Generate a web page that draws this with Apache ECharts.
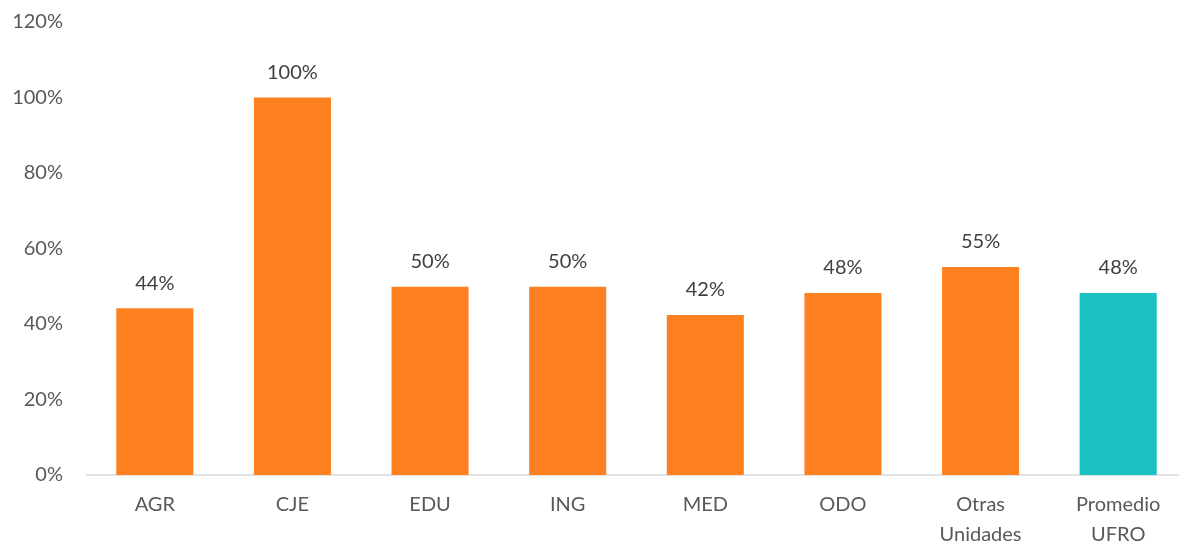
<!DOCTYPE html>
<html>
<head>
<meta charset="utf-8">
<script src="https://cdn.jsdelivr.net/npm/echarts@6/dist/echarts.min.js"></script>
<style>
  html, body { margin: 0; padding: 0; background: #fff; }
  #chart { width: 1179px; height: 544px; }
</style>
</head>
<body>
<div id="chart"></div>
<script>
// categorias y valores (%)
var categories = ['AGR', 'CJE', 'EDU', 'ING', 'MED', 'ODO', 'Otras\nUnidades', 'Promedio\nUFRO'];
var values = [44.2, 100, 49.9, 49.9, 42.4, 48.2, 55.1, 48.2];
var yTicks = [0, 20, 40, 60, 80, 100, 120];

var orange = '#FF8021';
var teal = '#1BC1C1';

var barData = [];
for (var i = 0; i < values.length; i++) {
  barData.push({
    value: values[i],
    itemStyle: { color: i == values.length - 1 ? teal : orange }
  });
}

var myChart = echarts.init(document.getElementById('chart'));
var option = {
  animation: false,
  textStyle: { fontFamily: 'Lato, "Open Sans", sans-serif' },
  grid: { left: 86, top: 22, width: 1101, height: 453, containLabel: false, outerBoundsMode: 'none' },
  xAxis: {
    type: 'category',
    data: categories,
    axisLine: { lineStyle: { color: '#D9D9D9', width: 1.5 } },
    axisTick: { show: false },
    axisLabel: { color: '#595959', fontSize: 20, margin: 15, lineHeight: 30 }
  },
  yAxis: {
    type: 'value',
    min: yTicks[0],
    max: yTicks[yTicks.length - 1],
    interval: 20,
    splitLine: { show: false },
    axisLine: { show: false },
    axisTick: { show: false },
    axisLabel: {
      color: '#595959', fontSize: 20, margin: 23,
      formatter: function(v) { return v + '%'; }
    }
  },
  series: [{
    type: 'bar',
    data: barData,
    barWidth: '56%',
    label: {
      show: true,
      position: 'top',
      distance: 15,
      color: '#404040',
      fontSize: 20,
      formatter: function(p) { return Math.round(p.value) + '%'; }
    }
  }]
};
myChart.setOption(option);
</script>
</body>
</html>
